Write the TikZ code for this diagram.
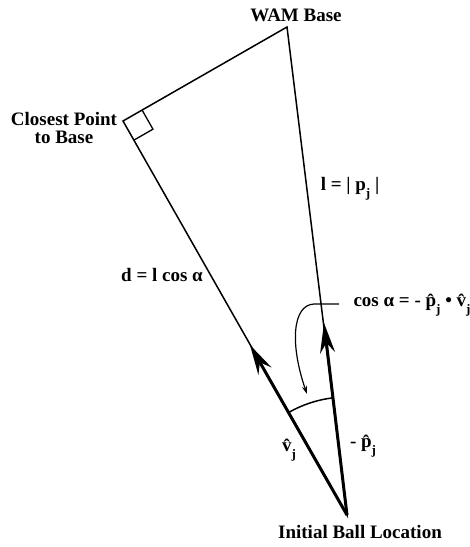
\documentclass[tikz,border=0pt]{standalone}
\usepackage{fontspec}
\setmainfont{Liberation Serif}
\usetikzlibrary{arrows.meta,calc}
\newcommand{\myhp}{\^{p}}
\newcommand{\myhv}{\^{v}}
\newcommand{\mysubj}{\raisebox{-0.35em}{\fontsize{13}{13}\selectfont\bfseries j}}
\tikzset{
  lbl/.style={font=\bfseries\fontsize{19}{18}\selectfont, inner sep=0pt, align=center},
  side/.style={line width=1.5pt},
  vec/.style={line width=3pt, -{Stealth[length=30pt,width=15pt,inset=10pt]}},
}
\begin{document}
\begin{tikzpicture}[x=1pt,y=1pt]
\useasboundingbox (0,0) rectangle (470,-547);
\coordinate (W) at (287,-27);
\coordinate (C) at (123,-121);
\coordinate (B) at (347,-515);
\coordinate (vt) at (250,-345);
\coordinate (pt) at (324,-323);
\coordinate (ca0) at (339,-304);
\coordinate (ca1) at (314,-304);
\coordinate (ca2) at (307,-394);

\draw[side, line join=miter] (C) -- (W) -- (B) -- cycle;
\coordinate (ra1) at ($(C)!22pt!(W)$);
\coordinate (ra3) at ($(C)!22pt!(B)$);
\draw[line width=1.3pt] (ra1) -- ($(ra1)+(ra3)-(C)$) -- (ra3);

\draw[vec] (B) -- (vt);
\draw[vec] (B) -- (pt);
\draw[line width=1.5pt] ([shift={(97:118)}]B) arc[start angle=97,end angle=119.6,radius=118];
\draw[line width=1.2pt, -{Stealth[length=8pt,width=5pt]}] (ca0) -- (ca1) .. controls (292,-305) and (290,-345) .. (ca2);

\node[lbl] (wam) at (296,-15) {WAM Base};
\node[lbl] (cp) at (64,-128) {Closest Point\\to Base};
\node[lbl] (ball) at (360,-532) {Initial Ball Location};
\node[lbl] (len) at (350,-189) {l = | p\mysubj\ |};
\node[lbl] (dlab) at (162,-275) {d = l cos α};
\node[lbl] (cos) at (412,-305) {cos α = - \myhp\mysubj\ • \myhv\mysubj};
\node[lbl] (vlab) at (289,-450) {\myhv\mysubj};
\node[lbl] (plab) at (363,-446) {- \myhp\mysubj};
\end{tikzpicture}
\end{document}
